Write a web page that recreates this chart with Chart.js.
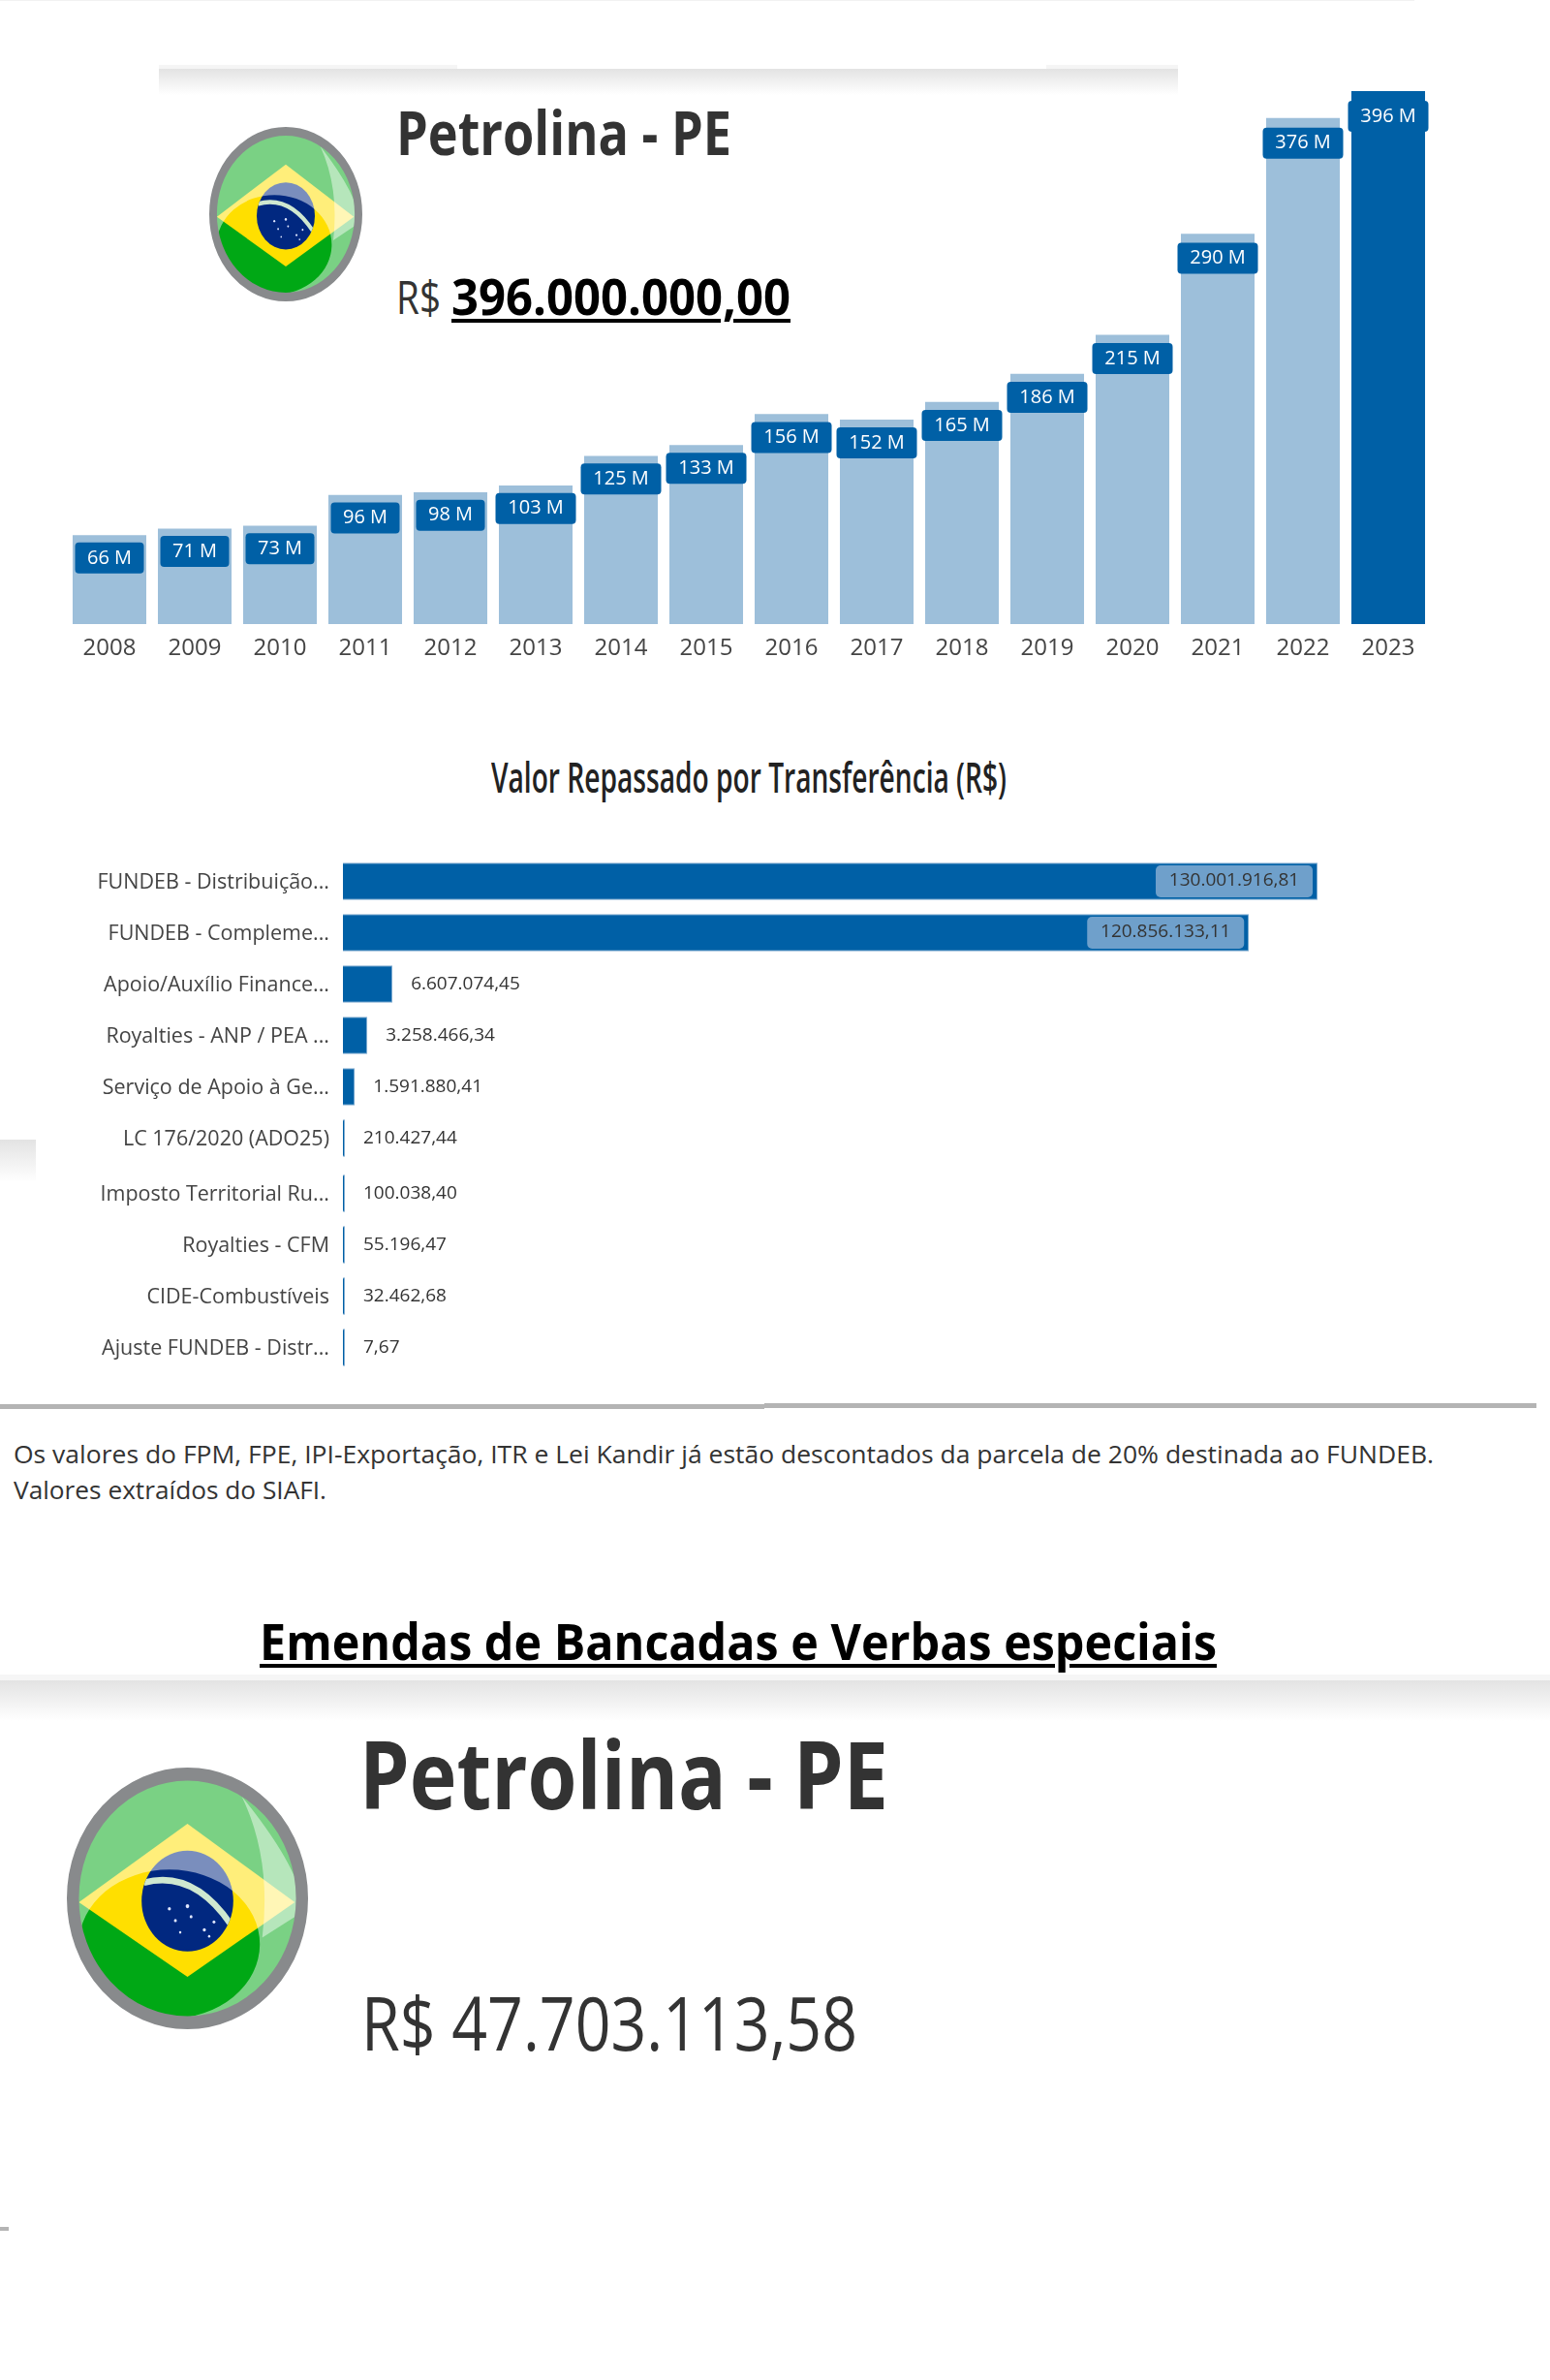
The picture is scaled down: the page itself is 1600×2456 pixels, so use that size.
<!DOCTYPE html>
<html>
<head>
<meta charset="utf-8">
<title>Petrolina - PE</title>
<script src="https://cdn.jsdelivr.net/npm/chart.js@4"></script>
<style>
html, body { margin: 0; padding: 0; background: #fff; }
#page { position: relative; width: 1600px; height: 2456px; overflow: hidden; font-family: "Open Sans", sans-serif; }
#page canvas { position: absolute; left: 0; }
.t { position: absolute; line-height: 1; white-space: nowrap; transform-origin: 0 0; color: #333; }
.b { font-weight: 700; }
.u { text-decoration: underline; text-decoration-thickness: 4px; text-underline-offset: 4px; color: #000; }
.band { position: absolute; background: linear-gradient(#e3e3e3, #fff); }
.rule { position: absolute; background: #b4b4b4; }
.flag { position: absolute; }
</style>
</head>
<body>
<div id="page">
  <div class="rule" style="left:0;top:0;width:1460px;height:1px;background:#f2f2f2"></div>
  <div class="rule" style="left:164px;top:67px;width:308px;height:5px;background:#f5f5f5"></div>
  <div class="rule" style="left:1080px;top:67px;width:136px;height:5px;background:#f5f5f5"></div>
  <div class="band" style="left:164px;top:71px;width:1052px;height:27px"></div>
  <div class="band" style="left:0;top:1176px;width:37px;height:44px"></div>
  <div class="rule" style="left:0;top:1449px;width:789px;height:5px"></div>
  <div class="rule" style="left:789px;top:1448px;width:797px;height:5px"></div>
  <div class="rule" style="left:0;top:1728px;width:1600px;height:6px;background:#f6f6f6"></div>
  <div class="band" style="left:0;top:1734px;width:1600px;height:42px"></div>
  <div class="rule" style="left:0;top:2298px;width:9px;height:4px"></div>

  <svg class="flag" style="left:216px;top:131px" width="158" height="180"><use href="#bandeira"/></svg>
  <svg class="flag" style="left:69px;top:1824px" width="249" height="270"><use href="#bandeira"/></svg>

  <div class="t b" data-w="346" style="left:409px;top:104px;font-size:63px">Petrolina - PE</div>
  <div class="t" data-w="46" style="left:409px;top:282px;font-size:48px">R$</div>
  <div class="t b u" data-w="350" style="left:466px;top:279px;font-size:52px">396.000.000,00</div>
  <div class="t b" data-w="532" style="left:507px;top:779px;font-size:44px;font-weight:600;color:#222">Valor Repassado por Transferência (R$)</div>
  <div class="t" data-w="1466" style="left:14px;top:1488px;font-size:25px">Os valores do FPM, FPE, IPI-Exportação, ITR e Lei Kandir já estão descontados da parcela de 20% destinada ao FUNDEB.</div>
  <div class="t" data-w="323" style="left:14px;top:1525px;font-size:25px">Valores extraídos do SIAFI.</div>
  <div class="t b u" data-w="988" style="left:268px;top:1667px;font-size:52px">Emendas de Bancadas e Verbas especiais</div>
  <div class="t b" data-w="546" style="left:371px;top:1782px;font-size:96px">Petrolina - PE</div>
  <div class="t" data-w="512" style="left:373px;top:2048px;font-size:77px">R$ 47.703.113,58</div>

  <canvas id="anoChart" width="1600" height="604" style="top:80px"></canvas>
  <canvas id="repasseA" style="top:883px"></canvas>
  <canvas id="repasseB" style="top:1205px"></canvas>
</div>

<svg width="0" height="0" style="position:absolute">
  <defs>
    <clipPath id="disco"><ellipse cx="0" cy="0" rx="97" ry="97"/></clipPath>
    <clipPath id="esfera"><ellipse cx="0" cy="2" rx="38" ry="38.5"/></clipPath>
    <symbol id="bandeira" viewBox="-100 -100 200 200" preserveAspectRatio="none">
      <g clip-path="url(#disco)">
        <rect x="-100" y="-100" width="200" height="200" fill="#00a815"/>
        <polygon points="-90,3 0,-57 89,3 0,60" fill="#ffdf00"/>
        <ellipse cx="0" cy="2" rx="38" ry="38.5" fill="#012880"/>
        <path d="M-36,-12 Q5,-22 36,20" fill="none" stroke="#cfe8d0" stroke-width="5" clip-path="url(#esfera)"/>
        <g fill="#dfe6ff">
          <circle cx="-15" cy="8" r="1.3"/><circle cx="0" cy="6" r="1.5"/><circle cx="-10" cy="17" r="1.2"/>
          <circle cx="3" cy="14" r="1.2"/><circle cx="14" cy="24" r="1.3"/><circle cx="22" cy="18" r="1.2"/>
          <circle cx="18" cy="29" r="1"/><circle cx="-6" cy="26" r="1"/>
        </g>
        <!-- brilho em volta do disco -->
        <path fill-rule="evenodd" fill="#fff" opacity="0.48" d="M-100,-100H100V100H-100Z M-90,35 A75,57 0 1,0 60,35 A75,57 0 1,0 -90,35Z"/>
        <path fill="#fff" opacity="0.45" d="M45,-78 Q96,-20 96,10 L62,30 Q70,-30 45,-78Z"/>
      </g>
      <ellipse cx="0" cy="0" rx="95" ry="95" fill="none" stroke="#888a8c" stroke-width="10"/>
    </symbol>
  </defs>
</svg>

<script>
// Repasses por ano (milhões de R$)
var anos = ['2008','2009','2010','2011','2012','2013','2014','2015','2016','2017','2018','2019','2020','2021','2022','2023'];
var valoresAno = [66, 71, 73, 96, 98, 103, 125, 133, 156, 152, 165, 186, 215, 290, 376, 396];

// Valor repassado por transferência (R$)
var transferencias = ['FUNDEB - Distribuição...','FUNDEB - Compleme...','Apoio/Auxílio Finance...','Royalties - ANP / PEA ...','Serviço de Apoio à Ge...','LC 176/2020 (ADO25)','Imposto Territorial Ru...','Royalties - CFM','CIDE-Combustíveis','Ajuste FUNDEB - Distr...'];
var valoresTransf = [130001916.81, 120856133.11, 6607074.45, 3258466.34, 1591880.41, 210427.44, 100038.40, 55196.47, 32462.68, 7.67];

var azul = '#0060a6';
var azulClaro = '#9dbfda';
var fonte = '"Open Sans", sans-serif';

function caixa(ctx, x, y, w, h, r, cor) {
  ctx.fillStyle = cor;
  ctx.beginPath();
  ctx.roundRect(x, y, w, h, r);
  ctx.fill();
}

function formataBR(v) {
  var p = v.toFixed(2).split('.');
  return p[0].replace(/\B(?=(\d{3})+$)/g, '.') + ',' + p[1];
}

// Etiquetas azuis dentro do topo de cada coluna
var etiquetasAno = {
  id: 'etiquetasAno',
  afterDatasetsDraw: function(chart) {
    var ctx = chart.ctx;
    ctx.save();
    ctx.font = '20px ' + fonte;
    ctx.textAlign = 'center';
    ctx.textBaseline = 'middle';
    chart.getDatasetMeta(0).data.forEach(function(bar, i) {
      var txt = valoresAno[i] + ' M';
      var w = valoresAno[i] >= 100 ? 83 : 71;
      // as etiquetas das colunas altas ficam um pouco mais abaixo do topo
      var meio = bar.y + 23 + 3 * valoresAno[i] / 396;
      caixa(ctx, bar.x - w / 2, meio - 16, w, 32, 4, azul);
      ctx.fillStyle = '#fff';
      ctx.fillText(txt, bar.x, meio);
    });
    ctx.restore();
  }
};

new Chart(document.getElementById('anoChart'), {
  type: 'bar',
  data: {
    labels: anos,
    datasets: [{
      data: valoresAno,
      backgroundColor: valoresAno.map(function(v, i) { return i == valoresAno.length - 1 ? azul : azulClaro; }),
      barPercentage: 0.864,
      categoryPercentage: 1
    }]
  },
  options: {
    responsive: false,
    animation: false,
    events: [],
    layout: { padding: { left: 69, right: 123, top: 14, bottom: 0 } },
    plugins: { legend: { display: false }, tooltip: { enabled: false } },
    scales: {
      x: {
        grid: { display: false, drawTicks: false },
        border: { display: false },
        afterFit: function(s) { s.height = 40; s.paddingLeft = 0; s.paddingRight = 0; },
        ticks: { color: '#444', font: { family: fonte, size: 24 }, padding: 11, maxRotation: 0 }
      },
      y: { display: false, min: 0, max: 396 }
    }
  },
  plugins: [etiquetasAno]
});

// Rótulos dos valores: dentro da barra nas duas maiores, fora nas outras
var rotulosTransf = {
  id: 'rotulosTransf',
  afterDatasetsDraw: function(chart) {
    var ctx = chart.ctx;
    var vals = chart.data.datasets[0].data;
    ctx.save();
    ctx.font = '19px ' + fonte;
    ctx.textBaseline = 'middle';
    chart.getDatasetMeta(0).data.forEach(function(bar, i) {
      var txt = formataBR(vals[i]);
      if (vals[i] > 100000000) {
        caixa(ctx, bar.x - 167, bar.y - 16.5, 162, 33, 5, '#6fa0cb');
        ctx.fillStyle = '#333';
        ctx.textAlign = 'center';
        ctx.fillText(txt, bar.x - 86, bar.y - 1);
      } else {
        ctx.fillStyle = '#333';
        ctx.textAlign = 'left';
        ctx.fillText(txt, bar.x + 19, bar.y);
      }
    });
    ctx.restore();
  }
};

function graficoTransf(id, rotulos, valores, altura) {
  var cv = document.getElementById(id);
  cv.width = 1600;
  cv.height = altura;
  new Chart(cv, {
    type: 'bar',
    data: {
      labels: rotulos,
      datasets: [{
        data: valores,
        backgroundColor: azul,
        borderColor: '#7fabd0',
        borderWidth: 1,
        minBarLength: 2,
        barPercentage: 0.726,
        categoryPercentage: 1
      }]
    },
    options: {
      indexAxis: 'y',
      responsive: false,
      animation: false,
      events: [],
      layout: { padding: { right: 240 } },
      plugins: { legend: { display: false }, tooltip: { enabled: false } },
      scales: {
        x: { display: false, min: 0, max: 130001916.81 },
        y: {
          grid: { display: false, drawTicks: false },
          border: { display: false },
          // a margem padrão do eixo encolhe as linhas, por isso zera aqui
          afterFit: function(s) { s.width = 354; s.paddingTop = 0; s.paddingBottom = 0; },
          ticks: { color: '#444', font: { family: fonte, size: 21.5 }, padding: 14, labelOffset: 1 }
        }
      }
    },
    plugins: [rotulosTransf]
  });
}

graficoTransf('repasseA', transferencias.slice(0, 6), valoresTransf.slice(0, 6), 318);
graficoTransf('repasseB', transferencias.slice(6), valoresTransf.slice(6), 212);

// Ajusta a largura de cada texto à largura medida na imagem
document.querySelectorAll('.t').forEach(function(el) {
  var real = el.getBoundingClientRect().width;
  el.style.transform = 'scaleX(' + (el.dataset.w / real) + ')';
});
</script>
</body>
</html>
